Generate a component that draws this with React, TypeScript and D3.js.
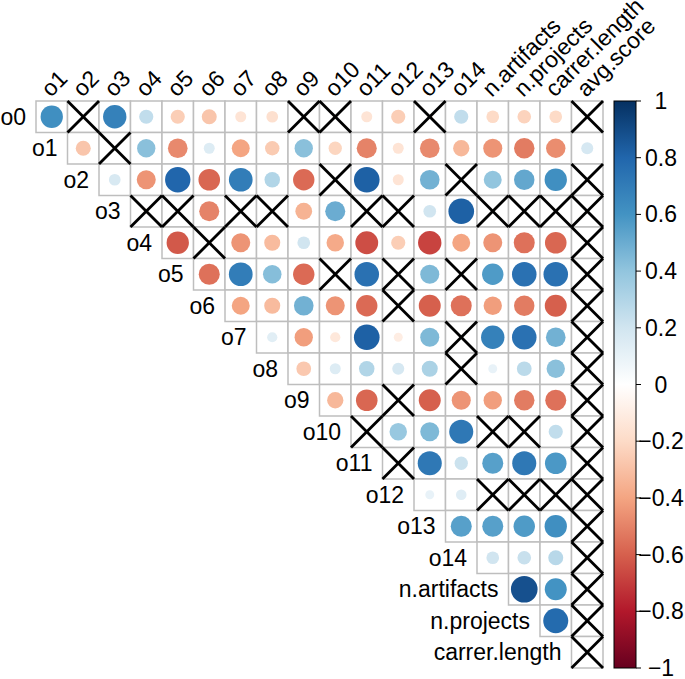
import React from "react";
import * as d3 from "d3";

const varNames = [
  "o0", "o1", "o2", "o3", "o4", "o5", "o6", "o7", "o8", "o9", "o10", "o11", "o12", "o13", "o14",
  "n.artifacts", "n.projects", "carrer.length", "avg.score",
];

// Upper-triangle correlations: row i holds values for columns i+1 .. 18
const corrRows: number[][] = [
  [0.62, 0.02, 0.68, 0.25, -0.25, -0.28, -0.15, -0.17, 0.03, -0.03, -0.15, -0.25, -0.05, 0.25, -0.2, -0.23, -0.2, 0.03],
  [-0.28, 0.03, 0.42, -0.48, 0.15, -0.4, -0.26, 0.42, -0.22, -0.5, -0.15, -0.48, -0.33, -0.45, -0.52, -0.47, 0.18],
  [0.17, -0.45, 0.8, -0.58, 0.7, 0.3, -0.57, 0.02, 0.82, -0.15, 0.48, 0.03, 0.4, 0.52, 0.62, -0.02],
  [-0.05, 0.02, -0.5, 0.02, 0.02, -0.35, 0.5, -0.02, 0.02, 0.2, 0.82, 0.02, 0.02, 0.02, 0.02],
  [-0.62, 0.02, -0.45, -0.32, 0.2, -0.38, -0.65, -0.25, -0.68, -0.4, -0.45, -0.55, -0.58, 0.02],
  [-0.55, 0.7, 0.43, -0.57, 0.02, 0.75, 0.02, 0.45, 0.02, 0.57, 0.75, 0.75, 0.02],
  [-0.4, -0.32, 0.48, -0.45, -0.57, -0.03, -0.6, -0.55, -0.42, -0.52, -0.6, 0.02],
  [0.13, -0.42, -0.13, 0.82, -0.1, 0.45, 0.02, 0.68, 0.75, 0.48, 0.02],
  [-0.27, 0.15, 0.3, 0.18, 0.32, 0.02, 0.1, 0.27, 0.42, 0.02],
  [-0.33, -0.58, 0.02, -0.6, -0.45, -0.42, -0.52, -0.55, 0.02],
  [0.02, 0.38, 0.45, 0.72, 0.02, 0.02, 0.25, 0.02],
  [0.02, 0.72, 0.22, 0.55, 0.72, 0.58, 0.02],
  [0.1, 0.14, 0.02, 0.02, 0.02, 0.02],
  [0.55, 0.55, 0.57, 0.62, 0.02],
  [0.2, 0.23, 0.28, -0.04],
  [0.88, 0.6, -0.04],
  [0.78, 0.02],
  [0.02],
];

// "1" marks a non-significant cell (crossed)
const insigRows: string[] = [
  "010000001100100001",
  "01000000000000000",
  "0000000100010001",
  "110110011001111",
  "01000000000001",
  "0000101010001",
  "000001000001",
  "00000010001",
  "0000010001",
  "001000001",
  "10001101",
  "1000001",
  "001111",
  "00001",
  "0001",
  "001",
  "01",
  "1",
];

const legendTicks = [-1, -0.8, -0.6, -0.4, -0.2, 0, 0.2, 0.4, 0.6, 0.8, 1];
const paletteStops = ["#67001F", "#B2182B", "#D6604D", "#F4A582", "#FDDBC7", "#FFFFFF", "#D1E5F0", "#92C5DE", "#4393C3", "#2166AC", "#053061"];

export default function App() {
  const W = 685, H = 679;
  const left = 36, top = 101, right = 603, bottom = 668;
  const n = corrRows.length; // 18
  const x = d3.scaleBand<number>().domain(d3.range(n)).range([left, right]);
  const y = d3.scaleBand<number>().domain(d3.range(n)).range([top, bottom]);
  const cw = x.bandwidth();
  const ch = y.bandwidth();
  const color = d3.scaleLinear<string>()
    .domain(d3.range(paletteStops.length).map((i) => -1 + (2 * i) / (paletteStops.length - 1)))
    .range(paletteStops)
    .interpolate(d3.interpolateRgb);
  const rScale = (v: number) => 0.9 * Math.sqrt(Math.abs(v)) * Math.min(cw, ch) / 2;

  const cells: { r: number; c: number; v: number; ns: boolean }[] = [];
  corrRows.forEach((row, i) => {
    row.forEach((v, k) => {
      cells.push({ r: i, c: i + k, v, ns: insigRows[i][k] === "1" });
    });
  });

  const font = "'Liberation Sans', Arial, Helvetica, sans-serif";
  const fs = 23;

  const barX0 = 614, barX1 = 636;
  const legY = d3.scaleLinear().domain([-1, 1]).range([bottom, top]);

  return (
    <svg width={W} height={H} style={{ position: "absolute", left: 0, top: 0, background: "#fff" }} fontFamily={font}>
      <defs>
        <linearGradient id="cbar" x1="0" y1="1" x2="0" y2="0">
          {paletteStops.map((c, i) => (
            <stop key={i} offset={`${(i / (paletteStops.length - 1)) * 100}%`} stopColor={c} />
          ))}
        </linearGradient>
      </defs>
      {/* grid */}
      {cells.map((d, i) => (
        <rect key={`g${i}`} x={x(d.c)} y={y(d.r)} width={cw} height={ch} fill="#fff" stroke="#BEBEBE" strokeWidth={1.5} />
      ))}
      {/* circles */}
      {cells.map((d, i) => (
        <circle key={`c${i}`} cx={x(d.c)! + cw / 2} cy={y(d.r)! + ch / 2} r={rScale(d.v)} fill={color(d.v)} />
      ))}
      {/* crosses */}
      {cells.filter((d) => d.ns).map((d, i) => {
        const x0 = x(d.c)!, y0 = y(d.r)!;
        return (
          <g key={`x${i}`} stroke="#000" strokeWidth={2.8}>
            <line x1={x0} y1={y0} x2={x0 + cw} y2={y0 + ch} />
            <line x1={x0 + cw} y1={y0} x2={x0} y2={y0 + ch} />
          </g>
        );
      })}
      {/* row labels */}
      {corrRows.map((_, i) => (
        <text key={`rl${i}`} x={x(i)! - 10} y={y(i)! + ch / 2} textAnchor="end" dominantBaseline="central" fontSize={fs} fill="#000">
          {varNames[i]}
        </text>
      ))}
      {/* column labels */}
      {d3.range(n).map((k) => {
        const cx = x(k)! + cw / 2 - 1;
        const cy = top - 3;
        return (
          <text key={`cl${k}`} x={cx} y={cy} transform={`rotate(-45 ${cx} ${cy})`} fontSize={fs} fill="#000">
            {varNames[k + 1]}
          </text>
        );
      })}
      {/* color bar */}
      <rect x={barX0} y={top} width={barX1 - barX0} height={bottom - top} fill="url(#cbar)" stroke="#000" strokeWidth={1} />
      {legendTicks.map((t) => (
        <g key={`t${t}`}>
          <line x1={barX1} x2={barX1 + 5} y1={legY(t)} y2={legY(t)} stroke="#000" strokeWidth={1} />
          <text x={661} y={legY(t)} textAnchor="middle" dominantBaseline="central" fontSize={fs} fill="#000">
            {t < 0 ? `\u2212${Math.abs(t)}` : `${t}`}
          </text>
        </g>
      ))}
    </svg>
  );
}
